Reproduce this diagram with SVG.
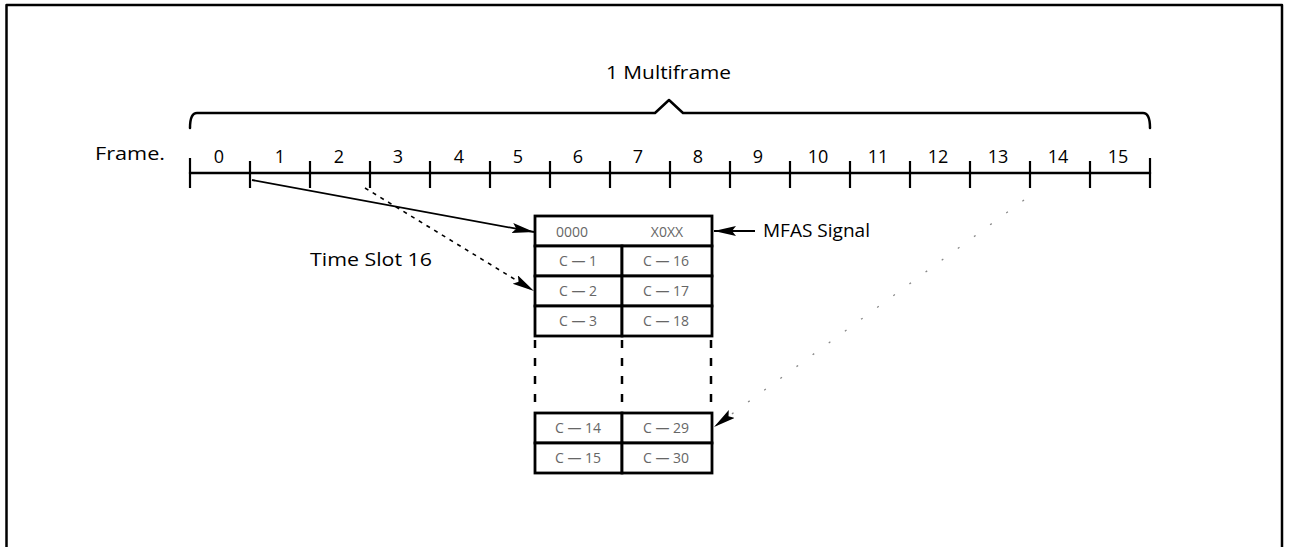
<svg xmlns="http://www.w3.org/2000/svg" width="1290" height="547" viewBox="0 0 1290 547">
<style>
  .ln { fill: none; stroke: #000; stroke-width: 2.5; stroke-linecap: round; stroke-linejoin: round; }
  .tick { stroke: #000; stroke-width: 2.2; }
  .lbl { font-family: "Open Sans", "Liberation Sans", sans-serif; font-size: 19px; fill: #000; }
  .num { font-family: "Open Sans", "Liberation Sans", sans-serif; font-size: 18px; fill: #000; text-anchor: middle; }
  .cell { fill: #fff; stroke: #000; stroke-width: 2.8; }
  .ctxt { font-family: "Open Sans", "Liberation Sans", sans-serif; font-size: 14px; fill: #666; text-anchor: middle; }
  .dash { stroke: #000; stroke-width: 2.5; stroke-dasharray: 8 10; }
  .solidc { fill: none; stroke: #000; stroke-width: 1.8; }
  .dotc { fill: none; stroke: #000; stroke-width: 1.6; stroke-dasharray: 4 5; }
  .faint { fill: none; stroke: #888; stroke-width: 1.3; stroke-dasharray: 2 18; }
</style>
<defs>
  <marker id="ah" markerUnits="userSpaceOnUse" markerWidth="24" markerHeight="12" refX="22" refY="5" orient="auto">
    <path d="M0,0 L22,5 L0,10 L4,5 z" fill="#000"/>
  </marker>
</defs>
<rect x="0" y="0" width="1290" height="547" fill="#fff"/>
<g id="border">
  <path class="ln" d="M6.5,547 L6.5,5 L1282,5 L1282,547"/>
</g>
<g id="multiframe-brace">
  <path class="ln" d="M190,128 Q190,113 197,113 L655,113 L669,100 L683,113 L1143,113 Q1150,113 1150,128"/>
  <text class="lbl" x="606" y="79" textLength="125" lengthAdjust="spacingAndGlyphs">1 Multiframe</text>
</g>
<g id="frame-axis">
  <text class="lbl" x="95" y="160" textLength="70" lengthAdjust="spacingAndGlyphs">Frame.</text>
  <line class="ln" x1="190" y1="173" x2="1150" y2="173"/>
  <line class="tick" x1="190" y1="158" x2="190" y2="188"/>
  <line class="tick" x1="250" y1="161" x2="250" y2="188"/>
  <line class="tick" x1="310" y1="161" x2="310" y2="188"/>
  <line class="tick" x1="370" y1="161" x2="370" y2="188"/>
  <line class="tick" x1="430" y1="161" x2="430" y2="188"/>
  <line class="tick" x1="490" y1="161" x2="490" y2="188"/>
  <line class="tick" x1="550" y1="161" x2="550" y2="188"/>
  <line class="tick" x1="610" y1="161" x2="610" y2="188"/>
  <line class="tick" x1="670" y1="161" x2="670" y2="188"/>
  <line class="tick" x1="730" y1="161" x2="730" y2="188"/>
  <line class="tick" x1="790" y1="161" x2="790" y2="188"/>
  <line class="tick" x1="850" y1="161" x2="850" y2="188"/>
  <line class="tick" x1="910" y1="161" x2="910" y2="188"/>
  <line class="tick" x1="970" y1="161" x2="970" y2="188"/>
  <line class="tick" x1="1030" y1="161" x2="1030" y2="188"/>
  <line class="tick" x1="1090" y1="161" x2="1090" y2="188"/>
  <line class="tick" x1="1150" y1="158" x2="1150" y2="188"/>
  <text class="num" x="219" y="163">0</text>
  <text class="num" x="280" y="163">1</text>
  <text class="num" x="339" y="163">2</text>
  <text class="num" x="398" y="163">3</text>
  <text class="num" x="459" y="163">4</text>
  <text class="num" x="518" y="163">5</text>
  <text class="num" x="578" y="163">6</text>
  <text class="num" x="638" y="163">7</text>
  <text class="num" x="698" y="163">8</text>
  <text class="num" x="758" y="163">9</text>
  <text class="num" x="818" y="163">10</text>
  <text class="num" x="878" y="163">11</text>
  <text class="num" x="938" y="163">12</text>
  <text class="num" x="998" y="163">13</text>
  <text class="num" x="1058" y="163">14</text>
  <text class="num" x="1118" y="163">15</text>
</g>
<g id="label-timeslot">
  <text class="lbl" x="310" y="266" textLength="122" lengthAdjust="spacingAndGlyphs">Time Slot 16</text>
</g>
<g id="label-mfas">
  <text class="lbl" x="763" y="237" textLength="107" lengthAdjust="spacingAndGlyphs">MFAS Signal</text>
</g>
<g id="ts16-table-top">
  <rect class="cell" x="535" y="216" width="177" height="30"/>
  <text class="ctxt" x="572" y="237">0000</text>
  <text class="ctxt" x="667" y="237">X0XX</text>
  <rect class="cell" x="535" y="246" width="87" height="30"/>
  <rect class="cell" x="622" y="246" width="90" height="30"/>
  <text class="ctxt" x="578" y="266">C — 1</text>
  <text class="ctxt" x="666" y="266">C — 16</text>
  <rect class="cell" x="535" y="276" width="87" height="30"/>
  <rect class="cell" x="622" y="276" width="90" height="30"/>
  <text class="ctxt" x="578" y="296">C — 2</text>
  <text class="ctxt" x="666" y="296">C — 17</text>
  <rect class="cell" x="535" y="306" width="87" height="30"/>
  <rect class="cell" x="622" y="306" width="90" height="30"/>
  <text class="ctxt" x="578" y="326">C — 3</text>
  <text class="ctxt" x="666" y="326">C — 18</text>
  <line class="dash" x1="535" y1="340" x2="535" y2="410"/>
  <line class="dash" x1="622" y1="340" x2="622" y2="410"/>
  <line class="dash" x1="711" y1="340" x2="711" y2="410"/>
</g>
<g id="ts16-table-bottom">
  <rect class="cell" x="535" y="413" width="87" height="30"/>
  <rect class="cell" x="622" y="413" width="90" height="30"/>
  <text class="ctxt" x="578" y="433">C — 14</text>
  <text class="ctxt" x="666" y="433">C — 29</text>
  <rect class="cell" x="535" y="443" width="87" height="30"/>
  <rect class="cell" x="622" y="443" width="90" height="30"/>
  <text class="ctxt" x="578" y="463">C — 15</text>
  <text class="ctxt" x="666" y="463">C — 30</text>
</g>
<g id="connectors">
  <line class="solidc" x1="252" y1="180" x2="534" y2="232" marker-end="url(#ah)"/>
  <line class="dotc" x1="365" y1="188" x2="534" y2="291" marker-end="url(#ah)"/>
  <line class="solidc" x1="755" y1="231" x2="714" y2="231" marker-end="url(#ah)"/>
  <line class="faint" x1="1024" y1="200" x2="714" y2="427" marker-end="url(#ah)"/>
</g>
</svg>
